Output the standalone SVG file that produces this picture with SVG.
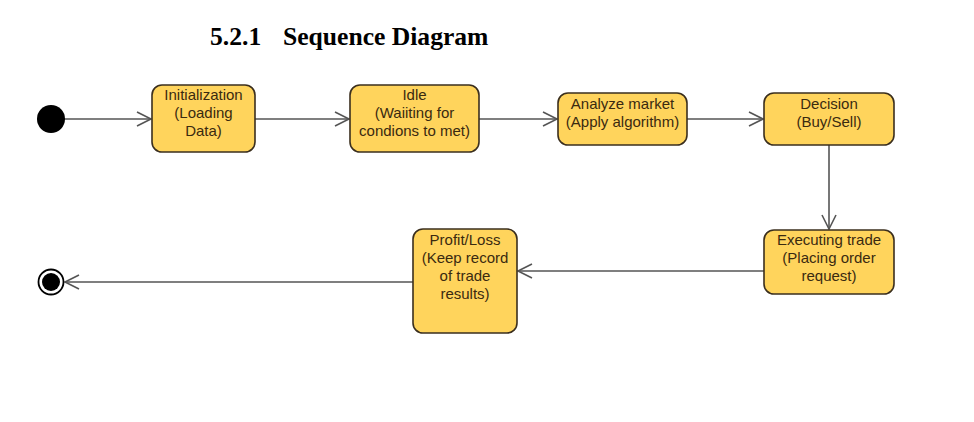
<svg xmlns="http://www.w3.org/2000/svg" width="974" height="422" viewBox="0 0 974 422">
<defs>
<style>
.node rect{fill:#FFD45C;stroke:#3B2F1E;stroke-width:1.6}
.node text{font-family:"Liberation Sans",Arial,sans-serif;font-size:15px;fill:#3A2A10;text-anchor:middle}
.conn line{stroke:#555555;stroke-width:1.6;fill:none;marker-end:url(#arr)}
.title{font-family:"Liberation Serif","Times New Roman",serif;font-size:25.6px;font-weight:bold;fill:#000}
</style>
<marker id="arr" markerUnits="userSpaceOnUse" markerWidth="18" markerHeight="18" viewBox="0 0 18 18" refX="15" refY="9" orient="auto">
<path d="M1,2 L15,9 L1,16" fill="none" stroke="#555555" stroke-width="1.6"/>
</marker>
</defs>
<rect width="974" height="422" fill="#ffffff"/>
<text class="title" x="210" y="45">5.2.1</text>
<text class="title" x="283" y="45">Sequence Diagram</text>
<g id="connectors" class="conn">
<line x1="64" y1="119" x2="151" y2="119"/>
<line x1="255" y1="119" x2="349" y2="119"/>
<line x1="479" y1="119" x2="557" y2="119"/>
<line x1="687" y1="119" x2="763" y2="119"/>
<line x1="829" y1="145" x2="829" y2="229"/>
<line x1="764" y1="271" x2="518" y2="271"/>
<line x1="413" y1="282" x2="65" y2="282"/>
</g>
<g id="start"><circle cx="51" cy="119" r="14" fill="#000"/></g>
<g id="n1" class="node"><rect x="152" y="85" width="103" height="67" rx="10"/>
<text x="203.5" y="100">Initialization</text><text x="203.5" y="118">(Loading</text><text x="203.5" y="136">Data)</text></g>
<g id="n2" class="node"><rect x="350" y="85" width="129" height="67" rx="10"/>
<text x="414.5" y="100">Idle</text><text x="414.5" y="118">(Waiiting for</text><text x="414.5" y="136">condions to met)</text></g>
<g id="n3" class="node"><rect x="558" y="93" width="129" height="52" rx="10"/>
<text x="622.5" y="109">Analyze market</text><text x="622.5" y="127">(Apply algorithm)</text></g>
<g id="n4" class="node"><rect x="764" y="93" width="130" height="52" rx="10"/>
<text x="829" y="109">Decision</text><text x="829" y="127">(Buy/Sell)</text></g>
<g id="n5" class="node"><rect x="764" y="230" width="130" height="64" rx="10"/>
<text x="829" y="245">Executing trade</text><text x="829" y="263">(Placing order</text><text x="829" y="281">request)</text></g>
<g id="n6" class="node"><rect x="413" y="229" width="104" height="104" rx="10"/>
<text x="465" y="245">Profit/Loss</text><text x="465" y="263">(Keep record</text><text x="465" y="281">of trade</text><text x="465" y="299">results)</text></g>
<g id="end"><circle cx="51" cy="282" r="12.5" fill="#fff" stroke="#000" stroke-width="1.8"/><circle cx="51" cy="282" r="9" fill="#000"/></g>
</svg>
